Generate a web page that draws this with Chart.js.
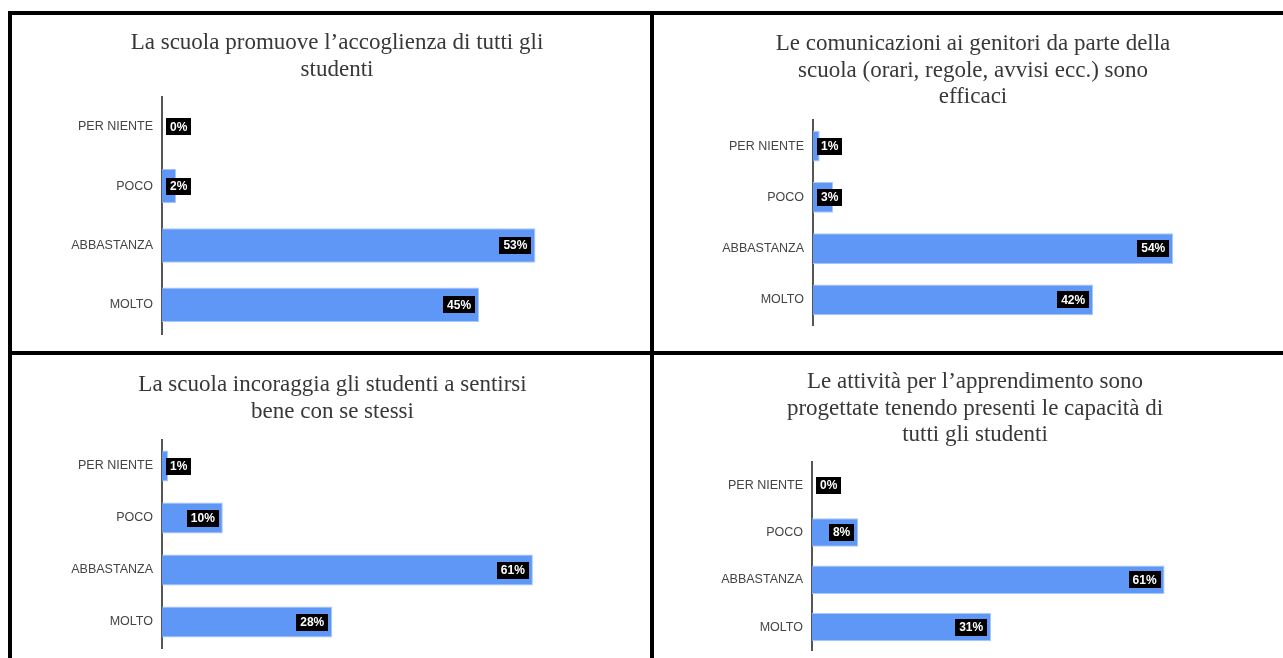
<!DOCTYPE html>
<html>
<head>
<meta charset="utf-8">
<script src="https://cdn.jsdelivr.net/npm/chart.js@4"></script>
<style>
  html, body { margin:0; padding:0; background:#fff; overflow:hidden; width:1283px; height:658px; }
  .line { position:absolute; background:#000; }
  .cell { position:absolute; width:638px; height:336px; }
  .cell canvas { display:block; }
</style>
</head>
<body>
<div class="line" style="left:8px;top:11px;width:1288px;height:4px"></div>
<div class="line" style="left:8px;top:351px;width:1288px;height:4px"></div>
<div class="line" style="left:8px;top:11px;width:4px;height:700px"></div>
<div class="line" style="left:650px;top:11px;width:4px;height:700px"></div>
<div class="line" style="left:1292px;top:11px;width:4px;height:700px"></div>

<div class="cell" style="left:12px;top:15px"><canvas id="c0" width="638" height="336"></canvas></div>
<div class="cell" style="left:654px;top:15px"><canvas id="c1" width="638" height="336"></canvas></div>
<div class="cell" style="left:12px;top:355px"><canvas id="c2" width="638" height="336"></canvas></div>
<div class="cell" style="left:654px;top:355px"><canvas id="c3" width="638" height="336"></canvas></div>

<script>
// ---- data ----
const categories = ['PER NIENTE', 'POCO', 'ABBASTANZA', 'MOLTO'];

const titleAccoglienza = ['La scuola promuove l\u2019accoglienza di tutti gli', 'studenti'];
const titleComunicazioni = ['Le comunicazioni ai genitori da parte della', 'scuola (orari, regole, avvisi ecc.) sono', 'efficaci'];
const titleBenessere = ['La scuola incoraggia gli studenti a sentirsi', 'bene con se stessi'];
const titleApprendimento = ['Le attivit\u00e0 per l\u2019apprendimento sono', 'progettate tenendo presenti le capacit\u00e0 di', 'tutti gli studenti'];

const valuesAccoglienza = [0, 2, 53, 45];
const valuesComunicazioni = [1, 3, 54, 42];
const valuesBenessere = [1, 10, 61, 28];
const valuesApprendimento = [0, 8, 61, 31];

const axisMax = [65, 65, 75, 75];

// ---- layout / style ----
const panels = [
  { id:'c0', title:titleAccoglienza,   values:valuesAccoglienza,   max:axisMax[0], tx:325,   ty:28, top:82,    left:150, right:30,   bottom:14,   bar:0.58 },
  { id:'c1', title:titleComunicazioni, values:valuesComunicazioni, max:axisMax[1], tx:319,   ty:29, top:105.4, left:159, right:45.4, bottom:25.4, bar:0.6 },
  { id:'c2', title:titleBenessere,     values:valuesBenessere,     max:axisMax[2], tx:320.5, ty:30, top:85,    left:150, right:32,   bottom:43,   bar:0.6 },
  { id:'c3', title:titleApprendimento, values:valuesApprendimento, max:axisMax[3], tx:321,   ty:27, top:106.5, left:158, right:46.5, bottom:40.2, bar:0.6 }
];

const titleLines = {
  id: 'titleLines',
  afterDraw(chart, args, opts) {
    const ctx = chart.ctx;
    ctx.save();
    ctx.font = '23px "Liberation Serif", "DejaVu Serif", serif';
    ctx.fillStyle = '#383838';
    ctx.textAlign = 'center';
    ctx.textBaseline = 'middle';
    opts.lines.forEach((l, i) => ctx.fillText(l, opts.x, opts.y + i * 26.5));
    ctx.restore();
  }
};

const boxLabels = {
  id: 'boxLabels',
  afterDatasetsDraw(chart) {
    const ctx = chart.ctx;
    const area = chart.chartArea;
    const meta = chart.getDatasetMeta(0);
    const data = chart.data.datasets[0].data;
    ctx.save();
    ctx.font = 'bold 12px Arial, "Liberation Sans", sans-serif';
    ctx.textBaseline = 'middle';
    ctx.textAlign = 'center';
    meta.data.forEach((bar, i) => {
      const txt = data[i] + '%';
      const w = ctx.measureText(txt).width + 8;
      const h = 17;
      let right = bar.x - 4;
      if (right - w < area.left + 4) right = area.left + 4 + w;
      ctx.fillStyle = '#000';
      ctx.fillRect(Math.round(right - w), Math.round(bar.y - h / 2), Math.round(w), h);
      ctx.fillStyle = '#fff';
      ctx.fillText(txt, right - w / 2, bar.y + 0.5);
    });
    ctx.restore();
  }
};

panels.forEach(p => {
  new Chart(document.getElementById(p.id), {
    type: 'bar',
    data: {
      labels: categories,
      datasets: [{
        data: p.values,
        backgroundColor: '#5e97f6',
        borderColor: '#a9c8fb',
        borderWidth: 1,
        barPercentage: p.bar,
        categoryPercentage: 1
      }]
    },
    options: {
      indexAxis: 'y',
      responsive: false,
      animation: false,
      layout: { padding: { top: p.top, left: 0, right: p.right, bottom: p.bottom } },
      plugins: {
        legend: { display: false },
        tooltip: { enabled: false },
        title: { display: false },
        titleLines: { lines: p.title, x: p.tx, y: p.ty }
      },
      scales: {
        x: { display: false, min: 0, max: p.max },
        y: {
          afterFit: (axis) => { axis.width = p.left; },
          grid: { display: false, drawTicks: false },
          border: { display: true, color: '#555', width: 2 },
          ticks: { color: '#444', padding: 9, font: { family: 'Arial, "Liberation Sans", sans-serif', size: 12.5 } }
        }
      }
    },
    plugins: [boxLabels, titleLines]
  });
});
</script>
</body>
</html>
